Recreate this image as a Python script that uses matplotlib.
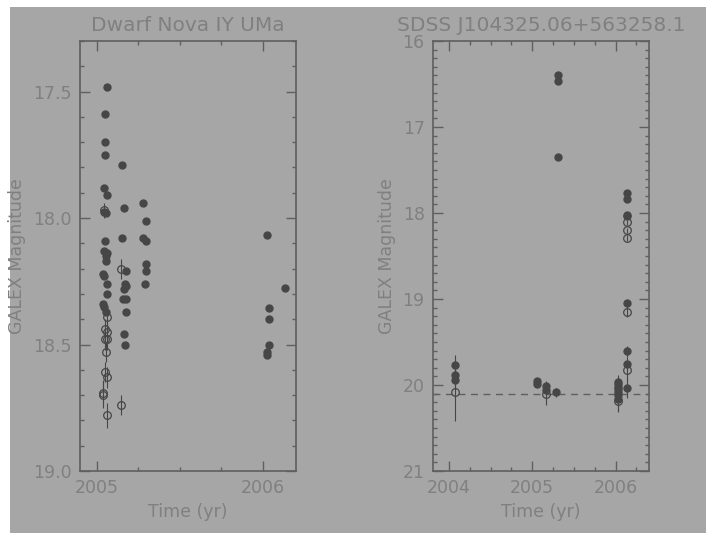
import numpy as np
import matplotlib
matplotlib.use('Agg')
import matplotlib.pyplot as plt
from matplotlib.patches import Rectangle
from matplotlib.ticker import MultipleLocator, FormatStrFormatter

# ---- IY UMa (left panel) ----
iy_fill_t = [2005.062, 2005.050, 2005.050, 2005.052, 2005.150, 2005.042, 2005.062,
             2005.280, 2005.165, 2005.044, 2005.054, 2005.295, 2005.152, 2005.280,
             2005.295, 2005.048, 2005.042, 2005.062, 2005.054, 2005.056, 2005.295,
             2005.295, 2005.290, 2005.175, 2005.038, 2005.044, 2005.064, 2005.169,
             2005.179, 2005.165, 2005.062, 2005.161, 2005.175, 2005.179, 2005.038,
             2005.044, 2005.058, 2005.165, 2005.169,
             2006.028, 2006.133, 2006.038, 2006.036, 2006.040, 2006.024, 2006.026]
iy_fill_m = [17.48, 17.59, 17.70, 17.75, 17.79, 17.88, 17.91,
             17.94, 17.96, 17.975, 17.98, 18.01, 18.08, 18.08,
             18.09, 18.09, 18.13, 18.14, 18.15, 18.17, 18.18,
             18.21, 18.26, 18.21, 18.22, 18.23, 18.26, 18.26,
             18.27, 18.28, 18.30, 18.32, 18.32, 18.37, 18.34,
             18.35, 18.37, 18.46, 18.50,
             18.065, 18.275, 18.356, 18.40, 18.50, 18.53, 18.54]
iy_open_t = [2005.044, 2005.148, 2005.062, 2005.048, 2005.062, 2005.048, 2005.062,
             2005.054, 2005.048, 2005.062, 2005.038, 2005.040, 2005.148, 2005.064]
iy_open_m = [17.97, 18.20, 18.39, 18.44, 18.45, 18.48, 18.48,
             18.53, 18.61, 18.63, 18.69, 18.70, 18.74, 18.78]
iy_open_err = [0.03, 0.04, 0.04, 0.04, 0.04, 0.04, 0.04,
               0.04, 0.04, 0.04, 0.05, 0.05, 0.04, 0.05]

# ---- SDSS J1043 (right panel) ----
sd_fill_t = [2004.07, 2004.07, 2004.07,
             2005.06, 2005.06, 2005.17, 2005.17, 2005.28,
             2005.31, 2005.31, 2005.31,
             2006.03, 2006.03, 2006.03, 2006.03, 2006.03, 2006.03, 2006.03,
             2006.14, 2006.14, 2006.14, 2006.14, 2006.14, 2006.14, 2006.14, 2006.14]
sd_fill_m = [19.77, 19.88, 19.94,
             19.95, 19.99, 20.01, 20.06, 20.085,
             16.39, 16.47, 17.35,
             19.96, 19.99, 20.02, 20.05, 20.08, 20.12, 20.16,
             17.77, 17.84, 18.02, 18.04, 19.05, 19.61, 19.76, 20.03]
sd_fill_err = [0.12, 0.10, 0.10,
               0.03, 0.03, 0.06, 0.06, 0.05,
               0.02, 0.02, 0.02,
               0.08, 0.08, 0.10, 0.10, 0.12, 0.12, 0.14,
               0.02, 0.02, 0.02, 0.02, 0.04, 0.06, 0.08, 0.12]
sd_open_t = [2004.07, 2005.17, 2006.14, 2006.14, 2006.14, 2006.14, 2006.14, 2006.03]
sd_open_m = [20.08, 20.11, 18.11, 18.20, 18.29, 19.15, 19.83, 20.19]
sd_open_err = [0.34, 0.12, 0.03, 0.03, 0.03, 0.06, 0.12, 0.12]
quiescent_mag = 20.1

bg = '#a6a6a6'
axc = '#5f5f5f'
txt = '#808080'
mk = '#464646'

fig = plt.figure(figsize=(7.06, 5.33), dpi=100, facecolor='white')
fig.patches.append(Rectangle((10/706, 0), 1, 1 - 7/533, transform=fig.transFigure,
                             facecolor=bg, edgecolor='none', zorder=-10))

ax1 = fig.add_axes([80/706, 1 - 471/533, 216/706, 430/533])
ax2 = fig.add_axes([433/706, 1 - 471/533, 216/706, 430/533])


def style(ax):
    ax.set_facecolor(bg)
    for s in ax.spines.values():
        s.set_color(axc)
        s.set_linewidth(1.2)
    ax.tick_params(which='both', direction='in', top=True, right=True,
                   color=axc, labelcolor=txt, labelsize=12.5, pad=6)
    ax.tick_params(which='major', length=7, width=1)
    ax.tick_params(which='minor', length=3, width=1)
    ax.set_xlabel('Time (yr)', color=txt, fontsize=12.5, labelpad=4)
    ax.set_ylabel('GALEX Magnitude', color=txt, fontsize=12.5, labelpad=5)


# left
ax1.errorbar(iy_open_t, iy_open_m, yerr=iy_open_err, fmt='o', mfc='none', mec=mk,
             ecolor=mk, ms=5.5, mew=0.9, elinewidth=0.8, capsize=0)
ax1.plot(iy_fill_t, iy_fill_m, 'o', color=mk, ms=5, mec=mk)
ax1.set_xlim(2004.9, 2006.2)
ax1.set_ylim(19.0, 17.3)
ax1.xaxis.set_major_locator(MultipleLocator(1))
ax1.xaxis.set_minor_locator(MultipleLocator(0.25))
ax1.yaxis.set_major_locator(MultipleLocator(0.5))
ax1.yaxis.set_minor_locator(MultipleLocator(0.1))
ax1.yaxis.set_major_formatter(FormatStrFormatter('%.1f'))
style(ax1)
ax1.set_title('Dwarf Nova IY UMa', color=txt, fontsize=14.5, pad=7)

# right
ax2.axhline(quiescent_mag, color=axc, ls=(0, (5, 4)), lw=1)
ax2.errorbar(sd_fill_t, sd_fill_m, yerr=sd_fill_err, fmt='o', color=mk, mec=mk,
             ecolor=mk, ms=5, elinewidth=0.8, capsize=0)
ax2.errorbar(sd_open_t, sd_open_m, yerr=sd_open_err, fmt='o', mfc='none', mec=mk,
             ecolor=mk, ms=5.5, mew=0.9, elinewidth=0.8, capsize=0)
ax2.set_xlim(2003.81, 2006.4)
ax2.set_ylim(21, 16)
ax2.xaxis.set_major_locator(MultipleLocator(1))
ax2.xaxis.set_minor_locator(MultipleLocator(0.25))
ax2.yaxis.set_major_locator(MultipleLocator(1))
ax2.yaxis.set_minor_locator(MultipleLocator(0.1))
style(ax2)
ax2.set_title('SDSS J104325.06+563258.1', color=txt, fontsize=14.5, pad=7)

fig.savefig('out.png', dpi=100, facecolor=fig.get_facecolor())
